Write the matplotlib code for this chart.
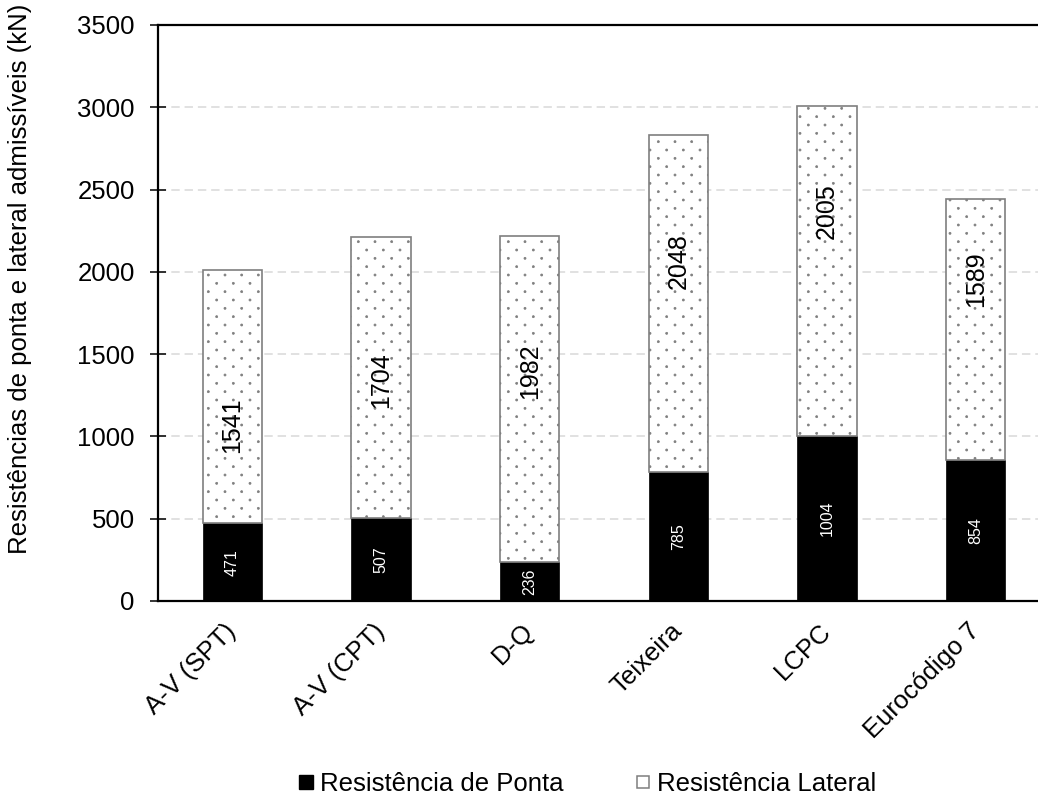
import numpy as np
import matplotlib
matplotlib.use('Agg')
from matplotlib import pyplot as plt
import matplotlib.hatch as mhatch
from matplotlib.path import Path
from matplotlib.lines import Line2D

methods = ['A-V (SPT)', 'A-V (CPT)', 'D-Q', 'Teixeira', 'LCPC', 'Eurocódigo 7']
ponta = [471, 507, 236, 785, 1004, 854]
lateral = [1541, 1704, 1982, 2048, 2005, 1589]
# height (kN) at which each lateral value label sits
lateral_label_y = [1069, 1343, 1398, 2066, 2370, 1957]
yticks = [0, 500, 1000, 1500, 2000, 2500, 3000, 3500]


class StaggeredDots(mhatch.HatchPatternBase):
    ''' dot hatch: rows twice as close as the dots in a row, every other row shifted '''
    radius = 0.06

    def __init__(self, hatch, density):
        self.ncols = hatch.count('.') * density
        self.circle = Path.unit_circle()
        self.centres = []
        if self.ncols:
            step = 1.0 / self.ncols
            for row in range(2 * self.ncols + 1):
                if row % 2 == 0:
                    xs = np.linspace(0, 1, self.ncols + 1)
                else:
                    xs = np.linspace(step / 2, 1 - step / 2, self.ncols)
                self.centres += [(x, row * step / 2) for x in xs]
        self.num_vertices = len(self.centres) * len(self.circle.vertices)

    def set_vertices_and_codes(self, vertices, codes):
        n = len(self.circle.vertices)
        r = self.radius / self.ncols
        for i, c in enumerate(self.centres):
            vertices[i * n:(i + 1) * n] = self.circle.vertices * r + c
            codes[i * n:(i + 1) * n] = self.circle.codes


mhatch._hatch_types = [StaggeredDots if t is mhatch.SmallFilledCircles else t
                       for t in mhatch._hatch_types]

plt.rcParams['font.family'] = ['Liberation Sans', 'DejaVu Sans']
plt.rcParams['hatch.linewidth'] = 0.55

fig = plt.figure(figsize=(10.38, 8.08), dpi=100)
ax = fig.add_axes([0.1522, 0.2562, 0.8594, 0.7129])

x = np.arange(len(methods))
grey = '#7f7f7f'
width = 0.40

ax.bar(x, ponta, width, color='black', edgecolor='black', linewidth=0.5, zorder=3)
ax.bar(x, lateral, width, bottom=ponta, color='white', edgecolor=grey,
       linewidth=1.2, hatch='.', zorder=3)

# value labels
for xi, p, l, ly in zip(x, ponta, lateral, lateral_label_y):
    ax.text(xi, p / 2, str(p), rotation=90, ha='center', va='center',
            color='white', fontsize=11.5, zorder=4)
    ax.text(xi, ly, str(l), rotation=90, ha='center', va='center',
            color='black', fontsize=18, zorder=4)

ax.set_xlim(-0.5, len(methods) - 0.5)
ax.set_ylim(0, 3500)
ax.set_yticks(yticks)
ax.set_xticks(x)
ax.set_xticklabels(methods, rotation=45, ha='right', va='center',
                   rotation_mode='anchor', fontsize=18.5)
ax.tick_params(axis='x', length=0, pad=19)
ax.tick_params(axis='y', direction='inout', length=11.5, width=1.1, pad=11, labelsize=18.5)

ax.yaxis.grid(True, color='#d9d9d9', linewidth=1.1, linestyle=(0, (5.5, 3.2)), zorder=0)
ax.set_axisbelow(True)

for side in ['left', 'bottom', 'top']:
    ax.spines[side].set_linewidth(1.6)
    ax.spines[side].set_color('black')
ax.spines['right'].set_visible(False)

ax.set_ylabel('Resistências de ponta e lateral admissíveis (kN)', fontsize=18.5)
ax.yaxis.set_label_coords(-0.141, 0.56)

handles = [Line2D([], [], marker='s', linestyle='none', markersize=10,
                  markerfacecolor='black', markeredgecolor='black'),
           Line2D([], [], marker='s', linestyle='none', markersize=8,
                  markerfacecolor='white', markeredgecolor=grey, markeredgewidth=1.1)]
fig.legend(handles, ['Resistência de Ponta', 'Resistência Lateral'],
           loc='center', bbox_to_anchor=(0.566, 0.03), ncol=2, frameon=False,
           fontsize=18.5, handlelength=0.6, handletextpad=0.25, columnspacing=2.8)

fig.savefig('out.png', dpi=100)
plt.close()
